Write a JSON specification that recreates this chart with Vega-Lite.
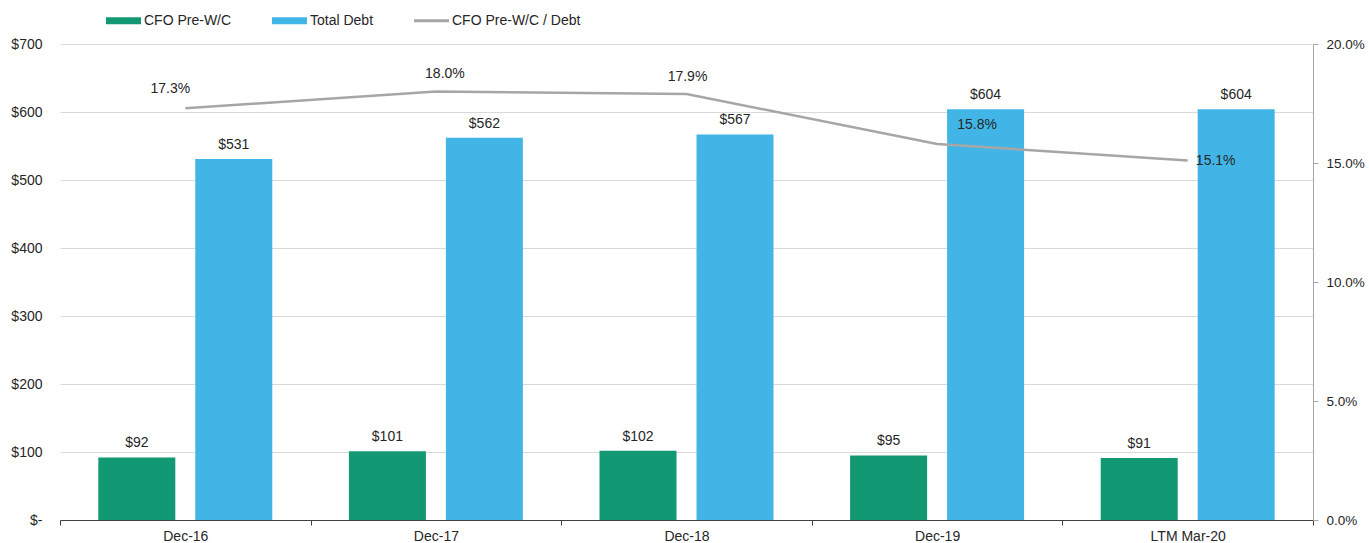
{
  "$schema": "https://vega.github.io/schema/vega-lite/v6.json",
  "autosize": {"type": "none"},
  "padding": {"left": 60, "top": 44, "right": 56, "bottom": 23},
  "width": 1253,
  "height": 476,
  "background": "white",
  "config": {
    "font": "Liberation Sans",
    "view": {"stroke": null},
    "axis": {"labelFont": "Liberation Sans", "labelColor": "#262626", "titleFont": "Liberation Sans"},
    "legend": {"labelFont": "Liberation Sans"}
  },
  "datasets": {
    "bars": [
      {"period": "Dec-16", "series": "CFO Pre-W/C", "value": 92},
      {"period": "Dec-16", "series": "Total Debt", "value": 531},
      {"period": "Dec-17", "series": "CFO Pre-W/C", "value": 101},
      {"period": "Dec-17", "series": "Total Debt", "value": 562},
      {"period": "Dec-18", "series": "CFO Pre-W/C", "value": 102},
      {"period": "Dec-18", "series": "Total Debt", "value": 567},
      {"period": "Dec-19", "series": "CFO Pre-W/C", "value": 95},
      {"period": "Dec-19", "series": "Total Debt", "value": 604},
      {"period": "LTM Mar-20", "series": "CFO Pre-W/C", "value": 91},
      {"period": "LTM Mar-20", "series": "Total Debt", "value": 604}
    ],
    "ratio": [
      {"period": "Dec-16", "ratio": 0.173},
      {"period": "Dec-17", "ratio": 0.180},
      {"period": "Dec-18", "ratio": 0.179},
      {"period": "Dec-19", "ratio": 0.158},
      {"period": "LTM Mar-20", "ratio": 0.151}
    ]
  },
  "encoding": {
    "x": {
      "field": "period",
      "type": "nominal",
      "sort": null,
      "scale": {"paddingInner": 0, "paddingOuter": 0},
      "axis": {
        "title": null,
        "labelAngle": 0,
        "labelFontSize": 14,
        "labelPadding": 4,
        "domainColor": "#404040",
        "domainWidth": 1,
        "tickColor": "#404040",
        "tickSize": 5,
        "tickBand": "extent",
        "grid": false
      }
    }
  },
  "layer": [
    {
      "data": {"name": "bars"},
      "layer": [
        {
          "mark": {"type": "bar"},
          "encoding": {
            "xOffset": {
              "field": "series",
              "type": "nominal",
              "sort": ["CFO Pre-W/C", "Total Debt"],
              "scale": {"paddingInner": 0.206, "paddingOuter": 0.395}
            },
            "y": {
              "field": "value",
              "type": "quantitative",
              "scale": {"domain": [0, 700], "nice": false},
              "axis": {
                "title": null,
                "values": [0, 100, 200, 300, 400, 500, 600, 700],
                "labelExpr": "datum.value == 0 ? '$-' : '$' + datum.value",
                "labelFontSize": 14,
                "labelPadding": 18,
                "domain": false,
                "ticks": false,
                "tickSize": 0,
                "grid": true,
                "gridColor": "#d9d9d9",
                "gridWidth": 1
              }
            },
            "color": {
              "field": "series",
              "type": "nominal",
              "scale": {
                "domain": ["CFO Pre-W/C", "Total Debt", "CFO Pre-W/C / Debt"],
                "range": ["#139874", "#41b6e6", "#a6a6a6"]
              },
              "legend": {
                "title": null,
                "orient": "none",
                "legendX": 46,
                "legendY": -41,
                "direction": "horizontal",
                "padding": 0,
                "labelFontSize": 14,
                "labelColor": "#262626",
                "labelOffset": 3,
                "columnPadding": 40,
                "symbolSize": 1225,
                "symbolStrokeWidth": 0,
                "symbolOpacity": 1,
                "symbolType": "M-1,-0.2L1,-0.2L1,0.2L-1,0.2Z",
                "encode": {
                  "symbols": {
                    "update": {
                      "shape": {"signal": "datum.value === 'CFO Pre-W/C / Debt' ? 'M-1,-0.085L1,-0.085L1,0.085L-1,0.085Z' : 'M-1,-0.2L1,-0.2L1,0.2L-1,0.2Z'"}
                    }
                  }
                }
              }
            }
          }
        },
        {
          "mark": {"type": "text", "baseline": "bottom", "dy": -7, "fontSize": 14, "color": "#262626"},
          "encoding": {
            "xOffset": {
              "field": "series",
              "type": "nominal",
              "sort": ["CFO Pre-W/C", "Total Debt"],
              "scale": {"paddingInner": 0.206, "paddingOuter": 0.395}
            },
            "y": {"field": "value", "type": "quantitative", "scale": {"domain": [0, 700], "nice": false}},
            "text": {"field": "value", "type": "quantitative", "format": "$.0f"}
          }
        }
      ]
    },
    {
      "data": {"name": "ratio"},
      "layer": [
        {
          "mark": {"type": "line", "color": "#a6a6a6", "strokeWidth": 2.5},
          "encoding": {
            "y": {
              "field": "ratio",
              "type": "quantitative",
              "scale": {"domain": [0, 0.2], "nice": false},
              "axis": {
                "orient": "right",
                "title": null,
                "format": ".1%",
                "values": [0, 0.05, 0.1, 0.15, 0.2],
                "labelFontSize": 13.5,
                "labelPadding": 8,
                "domainColor": "#a6a6a6",
                "tickColor": "#a6a6a6",
                "tickSize": 5,
                "grid": false
              }
            }
          }
        },
        {
          "transform": [{"filter": "datum.period == 'Dec-16'"}],
          "mark": {"type": "text", "fontSize": 14, "color": "#262626", "dx": -15, "dy": -19},
          "encoding": {"y": {"field": "ratio", "type": "quantitative"}, "text": {"field": "ratio", "type": "quantitative", "format": ".1%"}}
        },
        {
          "transform": [{"filter": "datum.period == 'Dec-17'"}],
          "mark": {"type": "text", "fontSize": 14, "color": "#262626", "dx": 9, "dy": -18},
          "encoding": {"y": {"field": "ratio", "type": "quantitative"}, "text": {"field": "ratio", "type": "quantitative", "format": ".1%"}}
        },
        {
          "transform": [{"filter": "datum.period == 'Dec-18'"}],
          "mark": {"type": "text", "fontSize": 14, "color": "#262626", "dx": 1, "dy": -17},
          "encoding": {"y": {"field": "ratio", "type": "quantitative"}, "text": {"field": "ratio", "type": "quantitative", "format": ".1%"}}
        },
        {
          "transform": [{"filter": "datum.period == 'Dec-19'"}],
          "mark": {"type": "text", "fontSize": 14, "color": "#262626", "dx": 40, "dy": -19},
          "encoding": {"y": {"field": "ratio", "type": "quantitative"}, "text": {"field": "ratio", "type": "quantitative", "format": ".1%"}}
        },
        {
          "transform": [{"filter": "datum.period == 'LTM Mar-20'"}],
          "mark": {"type": "text", "fontSize": 14, "color": "#262626", "dx": 28, "dy": 0},
          "encoding": {"y": {"field": "ratio", "type": "quantitative"}, "text": {"field": "ratio", "type": "quantitative", "format": ".1%"}}
        }
      ]
    }
  ],
  "resolve": {"scale": {"y": "independent"}}
}
